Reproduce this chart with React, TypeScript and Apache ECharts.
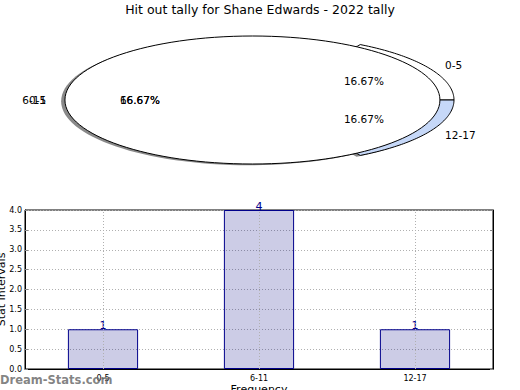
import React, { useEffect, useRef } from "react";
import * as echarts from "echarts";

const TITLE = "Hit out tally for Shane Edwards - 2022 tally";
const categories = ["0-5", "6-11", "12-17"];
const counts = [1, 4, 1];
const pieColors = ["#ffffff", "#ffffff", "#c6d8f8"];
const pieExplode = [0, 0.075, 0];
// stray overlapping texts printed at the exploded slice's label spots in the reference
const strayLabels = ["0-5", "16.67%"];
const yTickStep = 0.5;
const yMax = 4;

const FONT = "DejaVu Sans";
const PIE_CX = 266.5;
const PIE_CY = 100;
const PIE_RX = 187.5;
const PIE_RY = 64;

const total = counts.reduce((a, b) => a + b, 0);

function ept(cx: number, cy: number, a: number, k = 1) {
  return [cx + k * PIE_RX * Math.cos(a), cy - k * PIE_RY * Math.sin(a)];
}

function renderPie(params: any, api: any) {
  const i = params.dataIndex;
  const v = api.value(0);
  const before = counts.slice(0, i).reduce((a, b) => a + b, 0);
  const a0 = (before / total) * Math.PI * 2;
  const a1 = ((before + v) / total) * Math.PI * 2;
  const mid = (a0 + a1) / 2;
  const ex = pieExplode[i];
  const cx = PIE_CX + ex * PIE_RX * Math.cos(mid);
  const cy = PIE_CY - ex * PIE_RY * Math.sin(mid);
  const children: any[] = [];
  const sdx = -3.8;
  const sdy = 1.3;
  if (ex > 0) {
    children.push({
      type: "ellipse",
      z2: 0,
      shape: { cx: cx + sdx, cy: cy + sdy, rx: PIE_RX, ry: PIE_RY },
      style: { fill: "rgba(40,40,40,0.55)", stroke: null },
    });
    children.push({
      type: "ellipse",
      z2: 2,
      shape: { cx, cy, rx: PIE_RX, ry: PIE_RY },
      style: { fill: pieColors[i], stroke: "#000", lineWidth: 1 },
    });
  } else {
    const pts: number[][] = [[cx, cy]];
    const n = 60;
    for (let k = 0; k <= n; k++) {
      const a = a0 + ((a1 - a0) * k) / n;
      pts.push(ept(cx, cy, a));
    }
    children.push({
      type: "polygon",
      z2: 0,
      shape: { points: pts.map((p) => [p[0] + sdx, p[1] + sdy]) },
      style: { fill: "rgba(40,40,40,0.55)", stroke: null },
    });
    children.push({
      type: "polygon",
      z2: 1,
      shape: { points: pts },
      style: { fill: pieColors[i], stroke: "#000", lineWidth: 1 },
    });
  }
  const lp = ept(cx, cy, mid, 1.1);
  const pp = ept(cx, cy, mid, 0.6);
  const align = Math.cos(mid) >= 0 ? "left" : "right";
  const labelTexts = [categories[i]];
  const pctTexts = [((v / total) * 100).toFixed(2) + "%"];
  if (ex > 0) {
    labelTexts.push(strayLabels[0]);
    pctTexts.push(strayLabels[1]);
  }
  labelTexts.forEach((t) =>
    children.push({
      type: "text",
      z2: 5,
      x: lp[0],
      y: lp[1],
      style: { text: t, fill: "#000", fontSize: 10.5, fontFamily: FONT, align, verticalAlign: "middle" },
    })
  );
  pctTexts.forEach((t) =>
    children.push({
      type: "text",
      z2: 5,
      x: pp[0],
      y: pp[1],
      style: { text: t, fill: "#000", fontSize: 10.5, fontFamily: FONT, align: "center", verticalAlign: "middle" },
    })
  );
  return { type: "group", children };
}

export default function App() {
  const ref = useRef<HTMLDivElement>(null);
  useEffect(() => {
    if (!ref.current) return;
    const chart = echarts.init(ref.current, undefined, { renderer: "svg" });
    const dotted = { color: "#b0b0b0", type: [1, 2] as any, width: 1 };
    chart.setOption({
      animation: false,
      backgroundColor: "#fff",
      textStyle: { fontFamily: FONT },
      title: {
        text: TITLE,
        left: "center",
        top: 3,
        padding: 0,
        textStyle: { fontSize: 12.5, fontWeight: "normal", color: "#000", fontFamily: FONT },
      },
      grid: {
        left: 25,
        right: 27,
        top: 210,
        bottom: 21,
        show: true,
        borderColor: "#000",
        borderWidth: 1,
        containLabel: false,
        outerBoundsMode: "none",
      },
      xAxis: {
        type: "category",
        data: categories,
        boundaryGap: true,
        axisLine: { show: true, lineStyle: { color: "#000" } },
        axisTick: { show: false },
        axisLabel: { fontSize: 8, color: "#000", margin: 5, fontFamily: FONT },
        splitLine: { show: false },
        name: "Frequency",
        nameLocation: "middle",
        nameGap: 15,
        nameMoveOverlap: false,
        nameTextStyle: { fontSize: 11, color: "#000", fontFamily: FONT },
      },
      yAxis: [
        {
          type: "value",
          min: 0,
          max: yMax,
          interval: yTickStep,
          axisLine: { show: true, lineStyle: { color: "#000" } },
          axisTick: { show: true, inside: true, length: 3, lineStyle: { color: "#888" } },
          axisLabel: {
            fontSize: 8,
            color: "#000",
            margin: 3,
            fontFamily: FONT,
            formatter: (v: number) => v.toFixed(1),
          },
          splitLine: { show: true, lineStyle: dotted },
          name: "Stat Intervals",
          nameLocation: "middle",
          nameGap: 18,
          nameMoveOverlap: false,
          nameTextStyle: { fontSize: 11, color: "#000", fontFamily: FONT },
        },
        {
          type: "value",
          position: "right",
          min: 0,
          max: yMax,
          interval: yTickStep,
          axisLine: { show: true, lineStyle: { color: "#000" } },
          axisTick: { show: true, inside: true, length: 3, lineStyle: { color: "#888" } },
          axisLabel: { show: false },
          splitLine: { show: false },
        },
      ],
      graphic: [
        {
          type: "text",
          left: 0,
          top: 374,
          style: {
            text: "Dream-Stats.com",
            fill: "rgba(110,110,110,0.85)",
            fontSize: 11.5,
            fontWeight: "bold",
            fontFamily: FONT,
          },
          z: 100,
        },
      ],
      series: [
        {
          type: "custom",
          coordinateSystem: "none",
          renderItem: renderPie,
          data: counts.map((v) => [v]),
          silent: true,
        },
        {
          type: "bar",
          data: counts,
          barWidth: "45%",
          itemStyle: { color: "rgba(0,0,128,0.2)", borderColor: "#00008b", borderWidth: 1 },
          label: {
            show: true,
            position: "top",
            distance: -2,
            color: "#00008b",
            fontSize: 11,
            fontFamily: FONT,
          },
          markLine: {
            silent: true,
            symbol: "none",
            label: { show: false },
            lineStyle: dotted,
            data: categories.map((c) => ({ xAxis: c })),
          },
        },
      ],
    });
    return () => chart.dispose();
  }, []);
  return (
    <div
      ref={ref}
      style={{ position: "fixed", left: 0, top: 0, width: 520, height: 390 }}
    />
  );
}
